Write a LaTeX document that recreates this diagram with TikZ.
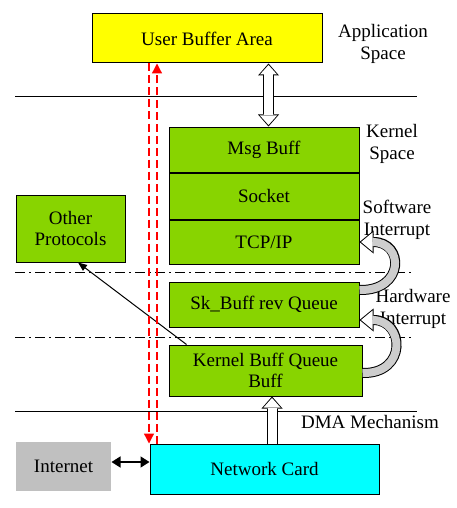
\documentclass[tikz,border=0pt]{standalone}
\usepackage{fontspec}
\setmainfont{Liberation Serif}
\usetikzlibrary{arrows.meta, positioning}

\definecolor{boxgreen}{RGB}{136,212,0}
\definecolor{cardcyan}{RGB}{0,255,255}
\definecolor{bufyellow}{RGB}{255,255,0}
\definecolor{netgray}{RGB}{192,192,192}
\definecolor{bandgray}{RGB}{205,205,205}

\begin{document}
\begin{tikzpicture}[x=1pt, y=-1pt, line width=1pt,
    font=\fontsize{19}{21.5}\selectfont,
    layerbox/.style={draw, fill=boxgreen, align=center, inner sep=0pt},
    sidelabel/.style={align=center, inner sep=0pt},
    bigout/.style={line width=11pt, >={Triangle[length=12pt,width=21pt,line width=0pt]}},
    bigin/.style={line width=9pt, white, >={Triangle[length=9.5pt,width=17pt,line width=0pt]}},
    bandout/.style={line width=10pt, -{Triangle[length=14pt,width=23pt,line width=0pt]}},
    bandin/.style={line width=8pt, bandgray, shorten >=1.6pt,
        -{Triangle[length=11.4pt,width=19pt,line width=0pt,fill=white,color=white]}},
    reddash/.style={red, line width=1.3pt, dash pattern=on 8pt off 4pt,
        -{Triangle[length=10pt,width=10pt]}}]
            \useasboundingbox (0,0) rectangle (457,508);

            % Separators between the spaces
            \draw (15,97) -- (417,97);
            \draw[dash pattern=on 10pt off 4pt on 2pt off 4pt] (15,272) -- (413,272);
            \draw[dash pattern=on 10pt off 4pt on 2pt off 4pt] (15,337) -- (413,337);
            \draw (15,411) -- (417,411);

            % Application side
            \node[draw, fill=bufyellow, minimum width=230pt, minimum height=49pt] (ub) at (207,38.5) {User Buffer Area};
            \node[sidelabel] (appl) at (383,44) {Application\\Space};

            % Kernel protocol stack
            \node[layerbox, minimum width=190pt, minimum height=45pt] (msg) at (264,149.5) {Msg Buff};
            \node[layerbox, minimum width=190pt, minimum height=46pt, below=0pt of msg] (sock) {Socket};
            \node[layerbox, minimum width=190pt, minimum height=44pt, below=0pt of sock] (tcp) {TCP/IP};
            \node[sidelabel] (kern) at (392,144) {Kernel\\Space};
            \node[layerbox, minimum width=109pt, minimum height=67pt] (op) at (70.5,228.5) {Other\\Protocols};
            \node[sidelabel] (soft) at (397,220) {Software\\Interrupt};

            % Receive queues
            \node[layerbox, minimum width=190pt, minimum height=45pt] (sk) at (264,304.5) {Sk\_Buff rev Queue};
            \node[sidelabel] (hard) at (413,309) {Hardware\\Interrupt};
            \node[layerbox, minimum width=193pt, minimum height=51pt] (kb) at (265.5,370.5) {Kernel Buff Queue\\Buff};

            % Hardware
            \node[draw, fill=cardcyan, minimum width=229pt, minimum height=50pt] (nc) at (264.5,469) {Network Card};
            \node[fill=netgray, minimum width=95pt, minimum height=49pt] (inet) at (63.5,466.5) {Internet};
            \node[sidelabel] (dma) at (370,422) {DMA Mechanism};

            % Hollow block arrows
            \draw[bigout, <->] ([xshift=4.5pt]msg.north) -- ([xshift=4.5pt]msg.north |- ub.south);
            \draw[bigin, <->, shorten >=1.5pt, shorten <=1.5pt] ([xshift=4.5pt]msg.north) -- ([xshift=4.5pt]msg.north |- ub.south);
            \draw[bigout, ->] ([xshift=7.5pt]nc.north) -- ([xshift=7.5pt]nc.north |- kb.south);
            \draw[bigin, ->, shorten >=1.5pt] ([xshift=7.5pt]nc.north) -- ([xshift=7.5pt]nc.north |- kb.south);

            % Interrupt arrows
            \draw[bandout] ([yshift=14.5pt]sk.east) .. controls +(45,1) and +(45,0) .. (tcp.east);
            \draw[bandin] ([yshift=14.5pt]sk.east) .. controls +(45,1) and +(45,0) .. (tcp.east);
            \draw[bandout] ([yshift=-2.5pt]kb.east) .. controls +(45,1) and +(45,0) .. ([yshift=-15.5pt]sk.east);
            \draw[bandin] ([yshift=-2.5pt]kb.east) .. controls +(45,1) and +(45,0) .. ([yshift=-15.5pt]sk.east);

            % Other links
            \draw[-{Triangle[length=9pt,width=7pt]}] ([xshift=18pt]kb.north west) -- ([xshift=7.5pt]op.south);
            \draw[line width=1.5pt, {Triangle[length=9pt,width=11pt]}-{Triangle[length=9pt,width=11pt]}] ([yshift=4.5pt]inet.east) -- ([yshift=4.5pt]inet.east -| nc.west);

            % Data path through the layers
            \draw[reddash] ([xshift=-58pt]ub.south) -- ([xshift=-58pt]ub.south |- nc.north);
            \draw[reddash] ([xshift=-50pt]ub.south |- nc.north) -- ([xshift=-50pt]ub.south);

        \end{tikzpicture}
\end{document}
